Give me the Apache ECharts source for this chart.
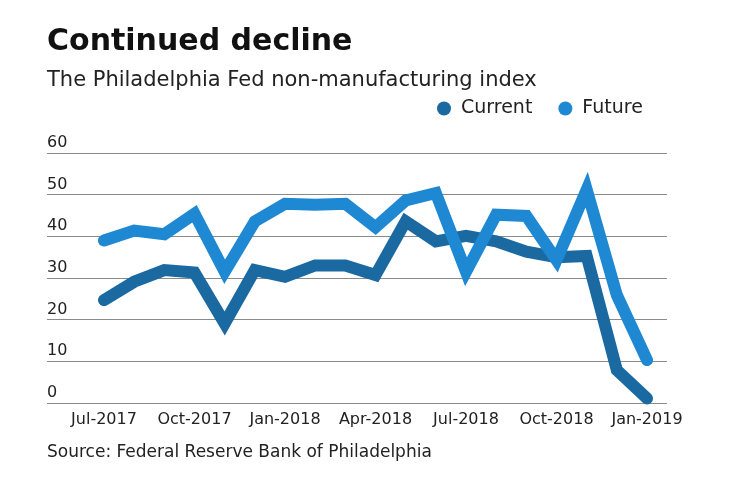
<!DOCTYPE html>
<html>
<head>
<meta charset="utf-8">
<script src="https://cdn.jsdelivr.net/npm/echarts@6/dist/echarts.min.js"></script>
<style>html,body{margin:0;padding:0;background:#fff;}#c{width:740px;height:482px;}</style>
</head>
<body>
<div id="c"></div>
<script>
var categories = ['Jul-2017','Aug-2017','Sep-2017','Oct-2017','Nov-2017','Dec-2017','Jan-2018','Feb-2018','Mar-2018','Apr-2018','May-2018','Jun-2018','Jul-2018','Aug-2018','Sep-2018','Oct-2018','Nov-2018','Dec-2018','Jan-2019'];
var currentValues = [24.7, 29.1, 31.9, 31.3, 19.1, 31.9, 30.3, 33.0, 33.0, 30.7, 43.6, 38.8, 40.1, 38.8, 36.3, 35.0, 35.3, 7.9, 1.1];
var futureValues = [39.0, 41.4, 40.5, 45.4, 31.5, 43.6, 47.8, 47.6, 47.8, 42.2, 48.6, 50.4, 31.5, 45.2, 44.9, 34.3, 51.2, 25.9, 10.3];
var yTicks = [0, 10, 20, 30, 40, 50, 60];

var FONT = '"DejaVu Sans", sans-serif';
var chart = echarts.init(document.getElementById('c'));
chart.setOption({
  animation: false,
  backgroundColor: '#fff',
  title: [
    {text: 'Continued decline', left: 42, top: 22, textStyle: {fontFamily: FONT, fontSize: 30, fontWeight: 'bold', color: '#111'}},
    {text: 'The Philadelphia Fed non-manufacturing index', left: 42, top: 65, textStyle: {fontFamily: FONT, fontSize: 21, fontWeight: 'normal', color: '#222'}},
    {text: 'Source: Federal Reserve Bank of Philadelphia', left: 42, top: 439, textStyle: {fontFamily: FONT, fontSize: 17, fontWeight: 'normal', color: '#222'}}
  ],
  legend: {
    left: 432, top: 94, icon: 'circle', itemWidth: 14, itemHeight: 14, itemGap: 26,
    textStyle: {fontFamily: FONT, fontSize: 19, color: '#222', padding: [0,0,0,5]},
    data: ['Current', 'Future']
  },
  grid: [
    {left: 104, right: 93, top: 153, bottom: 79},
    {left: 47, right: 73, top: 153, bottom: 79}
  ],
  xAxis: [
    {type: 'category', gridIndex: 0, data: categories, boundaryGap: false,
     axisLine: {show: false}, axisTick: {show: false},
     axisLabel: {interval: 2, fontFamily: FONT, fontSize: 16, color: '#222', margin: 9}},
    {type: 'category', gridIndex: 1, data: categories, show: false}
  ],
  yAxis: [
    {type: 'value', gridIndex: 0, min: 0, max: 60, interval: 10, show: false},
    {type: 'value', gridIndex: 1, min: yTicks[0], max: yTicks[yTicks.length-1], interval: 10,
     axisLine: {show: false}, axisTick: {show: false},
     splitLine: {lineStyle: {color: '#8a8a8a', width: 1}},
     axisLabel: {inside: true, margin: 0, align: 'left', verticalAlign: 'bottom', padding: [0,0,2,0],
       fontFamily: FONT, fontSize: 16, color: '#222'}}
  ],
  series: [
    {name: 'Current', type: 'line', xAxisIndex: 0, yAxisIndex: 0, data: currentValues, symbol: 'none',
     itemStyle: {color: '#1b69a1'}, lineStyle: {color: '#1b69a1', width: 12, cap: 'round', join: 'miter'}, z: 3},
    {name: 'Future', type: 'line', xAxisIndex: 0, yAxisIndex: 0, data: futureValues, symbol: 'none',
     itemStyle: {color: '#1e88d2'}, lineStyle: {color: '#1e88d2', width: 12, cap: 'round', join: 'miter'}, z: 4}
  ]
});
</script>
</body>
</html>
